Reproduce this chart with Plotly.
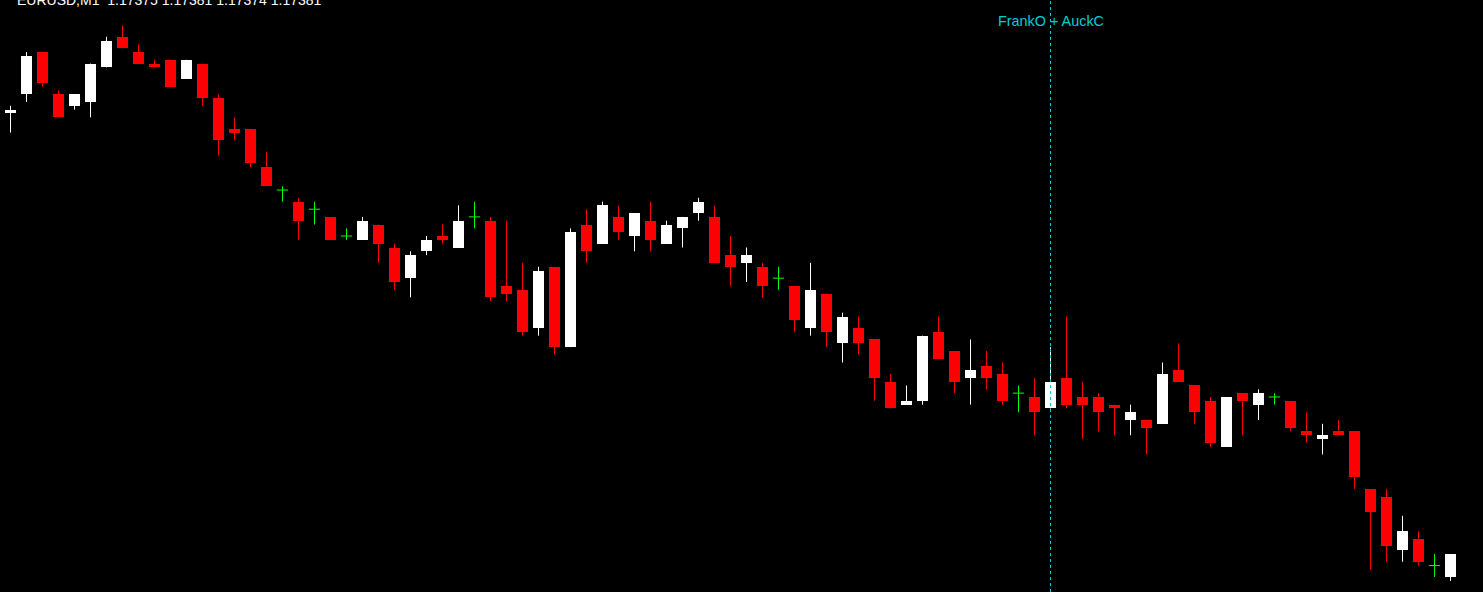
import plotly.graph_objects as go

# EURUSD M1 candles, oldest -> newest
opens = [
    1.17496, 1.17501, 1.17512, 1.17501, 1.17498, 1.17499, 1.17508, 1.17516, 1.17512, 1.17509,
    1.17510, 1.17505, 1.17509, 1.17500, 1.17492, 1.17492, 1.17482, 1.17476, 1.17473, 1.17471,
    1.17469, 1.17464, 1.17463, 1.17467, 1.17461, 1.17453, 1.17460, 1.17464, 1.17461, 1.17469,
    1.17468, 1.17451, 1.17450, 1.17440, 1.17456, 1.17435, 1.17467, 1.17462, 1.17469, 1.17464,
    1.17468, 1.17462, 1.17466, 1.17470, 1.17469, 1.17459, 1.17457, 1.17456, 1.17453, 1.17451,
    1.17440, 1.17449, 1.17436, 1.17440, 1.17437, 1.17426, 1.17420, 1.17421, 1.17439, 1.17434,
    1.17427, 1.17430, 1.17428, 1.17423, 1.17422, 1.17419, 1.17427, 1.17422, 1.17422, 1.17420,
    1.17416, 1.17416, 1.17415, 1.17429, 1.17425, 1.17421, 1.17409, 1.17423, 1.17420, 1.17422,
    1.17421, 1.17413, 1.17411, 1.17413, 1.17413, 1.17398, 1.17396, 1.17382, 1.17385, 1.17378,
    1.17375,
]
highs = [
    1.17498, 1.17512, 1.17512, 1.17502, 1.17501, 1.17509, 1.17516, 1.17519, 1.17514, 1.17510,
    1.17510, 1.17510, 1.17509, 1.17501, 1.17495, 1.17492, 1.17486, 1.17477, 1.17474, 1.17473,
    1.17469, 1.17466, 1.17469, 1.17467, 1.17462, 1.17460, 1.17464, 1.17467, 1.17472, 1.17473,
    1.17469, 1.17468, 1.17457, 1.17456, 1.17456, 1.17466, 1.17471, 1.17473, 1.17472, 1.17470,
    1.17473, 1.17468, 1.17469, 1.17474, 1.17472, 1.17464, 1.17461, 1.17457, 1.17456, 1.17451,
    1.17457, 1.17449, 1.17444, 1.17443, 1.17437, 1.17428, 1.17425, 1.17438, 1.17443, 1.17434,
    1.17437, 1.17434, 1.17431, 1.17425, 1.17427, 1.17435, 1.17443, 1.17426, 1.17423, 1.17420,
    1.17420, 1.17416, 1.17431, 1.17436, 1.17425, 1.17422, 1.17422, 1.17423, 1.17424, 1.17423,
    1.17421, 1.17418, 1.17415, 1.17416, 1.17413, 1.17398, 1.17398, 1.17391, 1.17387, 1.17381,
    1.17381,
]
lows = [
    1.17491, 1.17499, 1.17503, 1.17495, 1.17497, 1.17495, 1.17508, 1.17513, 1.17509, 1.17508,
    1.17503, 1.17505, 1.17498, 1.17485, 1.17489, 1.17482, 1.17477, 1.17473, 1.17463, 1.17467,
    1.17463, 1.17463, 1.17463, 1.17457, 1.17450, 1.17448, 1.17459, 1.17462, 1.17461, 1.17466,
    1.17447, 1.17447, 1.17438, 1.17438, 1.17433, 1.17435, 1.17457, 1.17462, 1.17463, 1.17460,
    1.17460, 1.17462, 1.17461, 1.17468, 1.17457, 1.17451, 1.17452, 1.17448, 1.17450, 1.17439,
    1.17438, 1.17435, 1.17431, 1.17433, 1.17421, 1.17419, 1.17420, 1.17420, 1.17432, 1.17423,
    1.17420, 1.17424, 1.17420, 1.17418, 1.17412, 1.17419, 1.17419, 1.17411, 1.17413, 1.17412,
    1.17412, 1.17407, 1.17415, 1.17426, 1.17415, 1.17409, 1.17409, 1.17412, 1.17416, 1.17420,
    1.17413, 1.17410, 1.17407, 1.17412, 1.17398, 1.17377, 1.17379, 1.17379, 1.17378, 1.17375,
    1.17374,
]
closes = [
    1.17497, 1.17511, 1.17504, 1.17495, 1.17501, 1.17509, 1.17515, 1.17513, 1.17509, 1.17508,
    1.17503, 1.17510, 1.17500, 1.17489, 1.17491, 1.17483, 1.17477, 1.17476, 1.17468, 1.17471,
    1.17463, 1.17464, 1.17468, 1.17462, 1.17452, 1.17459, 1.17463, 1.17463, 1.17468, 1.17469,
    1.17448, 1.17449, 1.17439, 1.17455, 1.17435, 1.17465, 1.17460, 1.17472, 1.17465, 1.17470,
    1.17463, 1.17467, 1.17469, 1.17473, 1.17457, 1.17456, 1.17459, 1.17451, 1.17453, 1.17442,
    1.17450, 1.17439, 1.17443, 1.17436, 1.17427, 1.17419, 1.17421, 1.17438, 1.17432, 1.17426,
    1.17429, 1.17427, 1.17421, 1.17423, 1.17418, 1.17426, 1.17420, 1.17420, 1.17418, 1.17419,
    1.17418, 1.17414, 1.17428, 1.17426, 1.17418, 1.17410, 1.17422, 1.17421, 1.17423, 1.17422,
    1.17414, 1.17412, 1.17412, 1.17412, 1.17401, 1.17392, 1.17383, 1.17387, 1.17379, 1.17378,
    1.17381,
]

header_text = "EURUSD,M1  1.17375 1.17381 1.17374 1.17381"
event_label = "FrankO + AuckC"
event_bar = 65

BULL = "#FFFFFF"
BEAR = "#FF0000"
DOJI = "#00FF00"
CYAN = "#00CED1"
BODY_W = 0.7
FONT = "Liberation Sans, Arial, sans-serif"

# ── Split candles by direction ────────────────────────────────────────────────

def _kind(o, c):
    if c > o:
        return "bull"
    if c < o:
        return "bear"
    return "doji"


colors = {"bull": BULL, "bear": BEAR, "doji": DOJI}
wick_x = {"bull": [], "bear": [], "doji": []}
wick_y = {"bull": [], "bear": [], "doji": []}
body_x, body_base, body_h, body_col = [], [], [], []
doji_x, doji_y = [], []

for i, (o, h, l, c) in enumerate(zip(opens, highs, lows, closes)):
    k = _kind(o, c)
    wick_x[k] += [i, i, None]
    wick_y[k] += [h, l, None]
    if k == "doji":
        doji_x += [i - BODY_W / 2, i + BODY_W / 2, None]
        doji_y += [o, o, None]
    else:
        body_x.append(i)
        body_base.append(min(o, c))
        body_h.append(abs(c - o))
        body_col.append(colors[k])

fig = go.Figure()

for k in ("bull", "bear", "doji"):
    fig.add_trace(go.Scatter(
        x=wick_x[k], y=wick_y[k], mode="lines",
        line=dict(color=colors[k], width=1),
        hoverinfo="skip",
    ))

fig.add_trace(go.Bar(
    x=body_x, y=body_h, base=body_base,
    width=BODY_W,
    marker=dict(color=body_col, line=dict(width=0)),
    hoverinfo="skip",
))

fig.add_trace(go.Scatter(
    x=doji_x, y=doji_y, mode="lines",
    line=dict(color=DOJI, width=1),
    hoverinfo="skip",
))

# event marker
fig.add_vline(x=event_bar, line=dict(color=CYAN, width=1, dash="3px,3px"))
fig.add_annotation(
    x=event_bar, xref="x", y=1 - 21 / 592, yref="paper",
    text=event_label, showarrow=False,
    font=dict(color=CYAN, size=14.4, family=FONT),
    xanchor="center", yanchor="middle",
)

# symbol header, clipped at the top edge like the terminal
fig.add_annotation(
    x=15 / 1483, xref="paper", y=1 - 10 / 592, yref="paper",
    text=header_text, showarrow=False,
    font=dict(color="#FFFFFF", size=14, family=FONT),
    xanchor="left", yanchor="bottom",
)

fig.update_layout(
    width=1483, height=592,
    paper_bgcolor="#000000",
    plot_bgcolor="#000000",
    margin=dict(l=0, r=0, t=0, b=0),
    showlegend=False,
    bargap=0,
    xaxis=dict(range=[-0.656, 92.03], visible=False, fixedrange=True),
    yaxis=dict(range=[1.173711, 1.175256], visible=False, fixedrange=True),
)

fig.write_html(
    "out.html",
    config={"displayModeBar": False},
    post_script="document.body.style.margin='0';document.body.style.overflow='hidden';",
)
